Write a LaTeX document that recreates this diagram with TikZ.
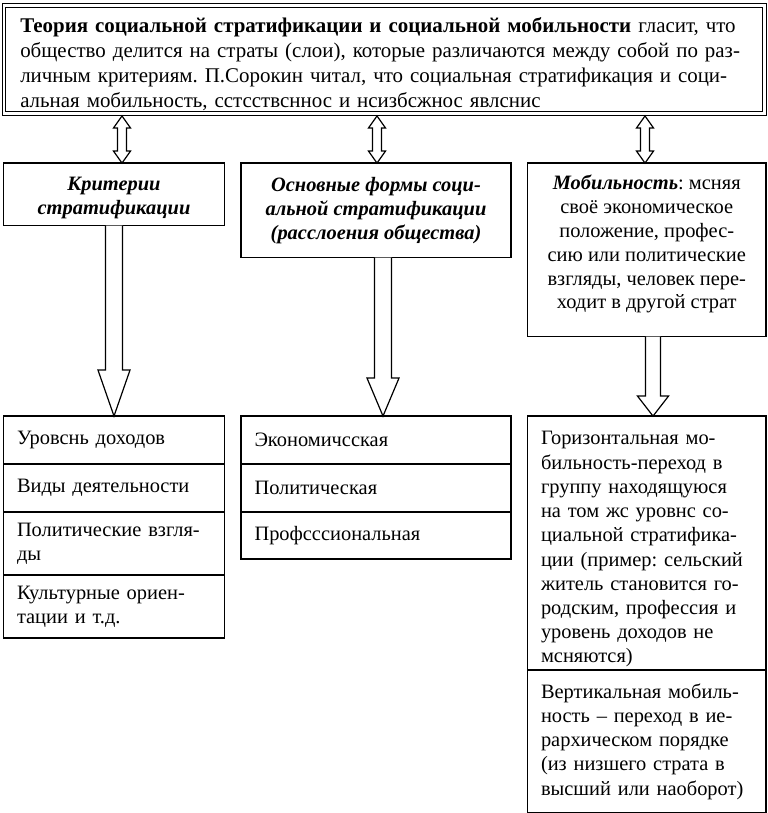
\documentclass[tikz,border=0pt]{standalone}
\usepackage{fontspec}
\setmainfont{Liberation Serif}
\usetikzlibrary{positioning, calc}
\frenchspacing

\tikzstyle{theory} = [rectangle, draw, double, double distance=2.2bp, line width=1.3bp, outer sep=0pt, inner xsep=0pt, align=left, anchor=north west, font=\fontsize{21}{25}\selectfont]
\tikzstyle{head} = [rectangle, draw, line width=1.2bp, outer sep=0pt, inner sep=0pt, align=center, font=\fontsize{20.5}{24}\selectfont]
\tikzstyle{cell} = [rectangle, draw, line width=1.2bp, outer sep=0pt, inner xsep=13.5bp, inner ysep=0pt, align=left, font=\fontsize{20.5}{24.3}\selectfont]
\tikzstyle{fat} = [draw, line width=1.2bp, fill=white, line join=miter]

% hollow arrow down: from, to, half shaft, half head, head length
\newcommand{\fatdown}[5]{%
  \draw[fat] let \p1=(#1), \p2=(#2) in
    (\x1-#3,\y1) -- (\x1-#3,\y2+#5) -- (\x1-#4,\y2+#5) -- (\x1,\y2)
    -- (\x1+#4,\y2+#5) -- (\x1+#3,\y2+#5) -- (\x1+#3,\y1);}
% hollow arrow both ways
\newcommand{\fatboth}[5]{%
  \draw[fat] let \p1=(#1), \p2=(#2) in
    (\x1,\y1) -- (\x1+#4,\y1-#5) -- (\x1+#3,\y1-#5) -- (\x1+#3,\y2+#5)
    -- (\x1+#4,\y2+#5) -- (\x1,\y2) -- (\x1-#4,\y2+#5) -- (\x1-#3,\y2+#5)
    -- (\x1-#3,\y1-#5) -- (\x1-#4,\y1-#5) -- cycle;}

\begin{document}
\begin{tikzpicture}[x=1bp, y=-1bp]
	\useasboundingbox (0,0) rectangle (768,813);

	% Theory
	\node (theory) [theory, minimum width=760.5bp, minimum height=107bp, text width=728bp] at (4,5.5) {%
		\rule{0pt}{23.5bp}\makebox[728bp][s]{\textbf{Теория социальной стратификации и социальной мобильности} гласит, что}\\
		\makebox[728bp][s]{общество делится на страты (слои), которые различаются между собой по раз-}\\
		\makebox[728bp][s]{личным критериям. П.Сорокин читал, что социальная стратификация и соци-}\\
		альная мобильность, сстсствсннос и нсизбсжнос явлснис};

	% Headers
	\node (crit) [head, minimum width=221bp, minimum height=62.5bp, below right=49.5bp and -0.5bp of theory.south west] {\rule{0pt}{20bp}\textbf{\textit{Критерии}}\\\textbf{\textit{стратификации}}};
	\node (forms) [head, minimum width=270bp, minimum height=94.5bp, below right=0bp and 16.5bp of crit.north east] {\textbf{\textit{Основные формы соци-}}\\\textbf{\textit{альной стратификации}}\\\textbf{\textit{(расслоения общества)}}};
	\node (mob) [head, minimum width=238.5bp, minimum height=173.5bp, below right=0bp and 16.5bp of forms.north east] {\textbf{\textit{Мобильность}}: мсняя\\своё экономическое\\положение, профес-\\сию или политические\\взгляды, человек пере-\\ходит в другой страт\rule[-16bp]{0pt}{0pt}};

	% Criteria
	\node (lev1) [cell, text width=194bp, minimum height=48bp, below right=190.5bp and 0bp of crit.south west] {Уровснь доходов};
	\node (lev2) [cell, text width=194bp, minimum height=48bp, below=0bp of lev1] {Виды деятельности};
	\node (lev3) [cell, text width=194bp, minimum height=63bp, below=0bp of lev2] {Политические взгля-\\ды};
	\node (lev4) [cell, text width=194bp, minimum height=63bp, below=0bp of lev3] {Культурные ориен-\\тации и т.д.};

	% Forms
	\node (econ) [cell, text width=243bp, minimum height=48bp, below right=0bp and 16.5bp of lev1.north east] {Экономичсская};
	\node (pol) [cell, text width=243bp, minimum height=48bp, below=0bp of econ] {Политическая};
	\node (prof) [cell, text width=243bp, minimum height=47bp, below=0bp of pol] {Профсссиональная};

	% Mobility
	\node (hor) [cell, text width=211.5bp, minimum height=254bp, below right=0bp and 16.5bp of econ.north east] {\rule{0pt}{26bp}Горизонтальная мо-\\бильность-переход в\\группу находящуюся\\на том жс уровнс со-\\циальной стратифика-\\ции (пример: сельский\\житель становится го-\\родским, профессия и\\уровень доходов не\\мсняются)};
	\node (vert) [cell, text width=211.5bp, minimum height=143bp, below=0bp of hor] {Вертикальная мобиль-\\ность – переход в ие-\\рархическом порядке\\(из низшего страта в\\высший или наоборот)};

	% Arrows
	\fatboth{[shift={(8bp,-2.4bp)}]crit.north |- theory.south}{[xshift=8bp]crit.north}{4.5bp}{8.5bp}{12bp}
	\fatboth{[shift={(1bp,-2.4bp)}]forms.north |- theory.south}{[xshift=1bp]forms.north}{4.5bp}{8.5bp}{12bp}
	\fatboth{[shift={(-1.75bp,-2.4bp)}]mob.north |- theory.south}{[xshift=-1.75bp]mob.north}{4.5bp}{8.5bp}{12bp}
	\fatdown{crit.south}{lev1.north}{8.5bp}{16bp}{46bp}
	\fatdown{[xshift=7bp]forms.south}{[xshift=7bp]econ.north}{8.5bp}{16bp}{38bp}
	\fatdown{[xshift=6.25bp]mob.south}{[xshift=6.25bp]hor.north}{7.5bp}{15.5bp}{20bp}

\end{tikzpicture}
\end{document}
